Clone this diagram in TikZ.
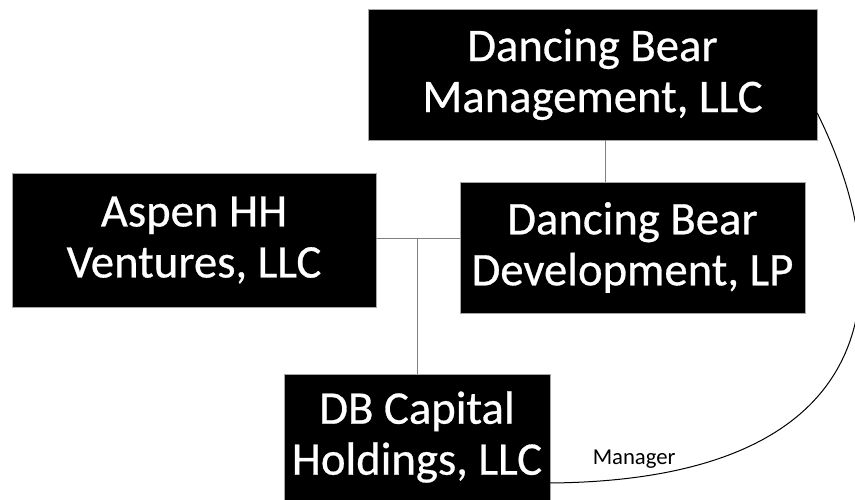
\documentclass[tikz,border=0pt]{standalone}
\usepackage{fontspec}
\setmainfont{Carlito}
\newfontfamily\boxfont[FakeBold=0.6]{Carlito}
\usetikzlibrary{positioning}

\begin{document}
\begin{tikzpicture}[
    x = 1pt, y = 1pt, % one unit per point
    entity/.style = {
        draw = gray!70,
        fill = black,
        text = white,
        align = center,
        inner sep = 0pt,
        font = \boxfont\fontsize{46.7}{51}\selectfont
    },
    link/.style = {draw = gray, line width = 0.8pt}, % ownership lines
    role/.style = {draw = black, line width = 1pt} % management line
    ]

    \useasboundingbox (0,0) rectangle (855,500);

    \node[entity, minimum width=449, minimum height=131] (mgmt) at (592.5,425.5)
        {Dancing Bear\\Management, LLC};
    \node[entity, minimum width=364, minimum height=134] (aspen) at (194,260)
        {Aspen HH\\Ventures, LLC};
    \node[entity, minimum width=345, minimum height=131] (devel) at (632.5,252.5)
        {Dancing Bear\\Development, LP};
    \node[entity, minimum width=266, minimum height=126] (dbcap) at (417,63)
        {DB Capital\\Holdings, LLC};

    % junction above DB Capital
    \coordinate (hub) at (dbcap.north |- 0,262);

    \path[link] ([xshift=12.5pt]mgmt.south) edge ([xshift=12.5pt]mgmt.south |- devel.north);
    \path[link] (aspen.east |- hub) edge (devel.west |- hub);
    \path[link] (hub) edge (dbcap.north);

    \draw[role] ([yshift=-38.5pt]mgmt.east)
        .. controls +(83,-167) and +(340,3) .. ([yshift=-46pt]dbcap.east)
        node[pos=0.91, above=5pt, font=\fontsize{22.7}{26}\selectfont] (mgrlabel) {Manager};
\end{tikzpicture}
\end{document}
